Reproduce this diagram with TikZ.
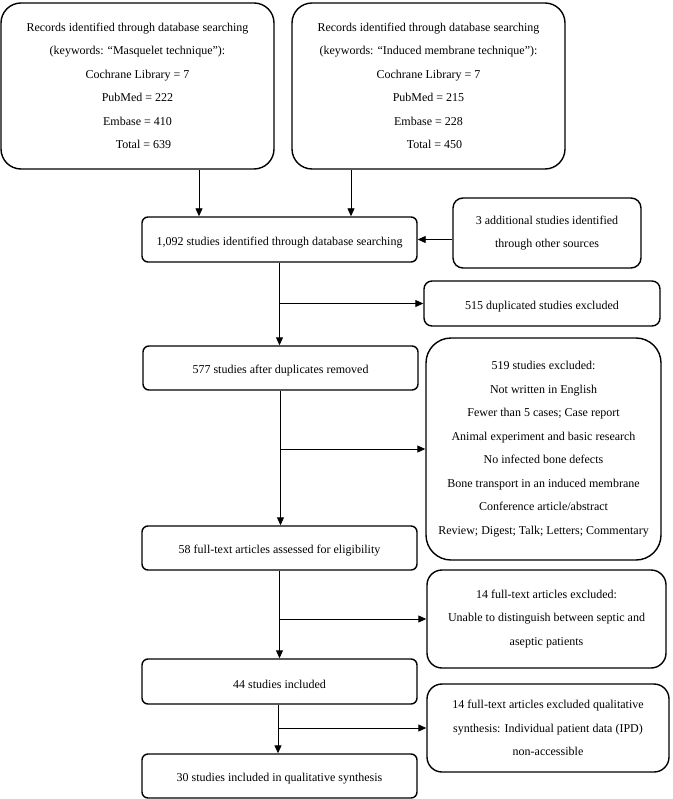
\documentclass[tikz,border=0pt]{standalone}
\usepackage{fontspec}
\setmainfont{Liberation Serif}
\usetikzlibrary{arrows.meta}
\begin{document}
\begin{tikzpicture}[x=1pt,y=-1pt,
  box/.style={draw, line width=1.4pt, rounded corners=#1, align=center, inner sep=0pt,
    font=\fontsize{12}{23.5}\selectfont, execute at begin node={\rule{0pt}{14pt}}},
  box/.default=6pt,
  arr/.style={line width=0.9pt, -{Triangle[length=8pt,width=7pt]}}]
\useasboundingbox (0,0) rectangle (672,799);

\node[box=20pt, minimum width=273pt, minimum height=166pt] (A) at (137.5,86)
  {Records identified through database searching\\
   (keywords: “Masquelet technique”):\\
   Cochrane Library = 7\\
   PubMed = 222\\
   Embase = 410\\
   \hspace*{12pt}Total = 639};
\node[box=20pt, minimum width=273pt, minimum height=166pt] (B) at (428.5,86)
  {Records identified through database searching\\
   (keywords: “Induced membrane technique”):\\
   Cochrane Library = 7\\
   PubMed = 215\\
   Embase = 228\\
   \hspace*{12pt}Total = 450};

\node[box, minimum width=275pt, minimum height=45pt] (C) at (279.5,239.5)
  {1,092 studies identified through database searching};
\node[box=10pt, minimum width=188pt, minimum height=70pt] (D) at (547,233)
  {3 additional studies identified\\ through other sources};

\node[box=8pt, minimum width=236pt, minimum height=45pt] (F) at (542,303.5)
  {515 duplicated studies excluded};
\node[box, minimum width=275pt, minimum height=44pt] (E) at (280.5,368)
  {577 studies after duplicates removed};

\node[box=25pt, minimum width=235pt, minimum height=222pt] (H) at (543.5,449)
  {519 studies excluded:\\
   Not written in English\\
   Fewer than 5 cases; Case report\\
   Animal experiment and basic research\\
   No infected bone defects\\
   Bone transport in an induced membrane\\
   Conference article/abstract\\
   Review; Digest; Talk; Letters; Commentary};

\node[box, minimum width=275pt, minimum height=44pt] (G) at (279.5,548)
  {58 full-text articles assessed for eligibility};
\node[box=15pt, minimum width=239pt, minimum height=98pt] (K) at (546.5,619)
  {14 full-text articles excluded:\\
   Unable to distinguish between septic and\\
   aseptic patients};

\node[box, minimum width=275pt, minimum height=45pt] (I) at (279.5,681.5)
  {44 studies included};
\node[box=15pt, minimum width=242pt, minimum height=88pt] (L) at (548,728)
  {14 full-text articles excluded qualitative\\
   synthesis: Individual patient data (IPD)\\
   non-accessible};

\node[box, minimum width=275pt, minimum height=44pt] (J) at (279.5,776)
  {30 studies included in qualitative synthesis};

% connectors
\draw[arr] ([xshift=61.5pt]A.south) -- ([xshift=61.5pt]A.south |- C.north);
\draw[arr] ([xshift=-77.5pt]B.south) -- ([xshift=-77.5pt]B.south |- C.north);
\draw[arr] (D.west |- C.east) -- (C.east);

\draw[arr] (C.south) -- (C.south |- E.north);
\draw[arr] (C.south |- F.west) -- (F.west);

\draw[arr] (E.south) -- (E.south |- G.north);
\draw[arr] (E.south |- H.west) -- (H.west);

\draw[arr] (G.south) -- (G.south |- I.north);
\draw[arr] (G.south |- K.west) -- (K.west);

\draw[arr] ([xshift=-1.5pt]I.south) -- ([xshift=-1.5pt]I.south |- J.north);
\draw[arr] ([xshift=-1.5pt]I.south |- L.west) -- (L.west);
\end{tikzpicture}
\end{document}
